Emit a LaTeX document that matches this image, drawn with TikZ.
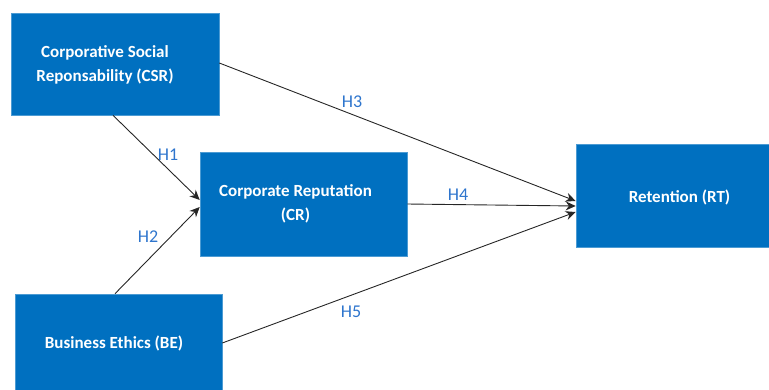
\documentclass[tikz,border=0pt]{standalone}
\usepackage{fontspec}
\setmainfont{Carlito}
\usetikzlibrary{arrows.meta}
\definecolor{boxblue}{RGB}{0,112,192}
\definecolor{hblue}{RGB}{46,117,205}
\begin{document}
\begin{tikzpicture}[x=1pt,y=-1pt,
	box/.style={fill=boxblue,draw=boxblue!70!white,line width=0.6pt,inner sep=0pt},
	txt/.style={text=white,align=center,font=\fontsize{17}{24}\selectfont\bfseries},
	hyp/.style={text=hblue,font=\fontsize{18}{20}\selectfont},
	link/.style={-{Stealth[length=10pt,width=9pt]},line width=0.9pt,black!85}]
		\useasboundingbox (0,0) rectangle (769,389);

		\node[box,minimum width=208pt,minimum height=102pt,label={[txt,name=CSRtext,xshift=-10pt,yshift=-1pt]center:Corporative Social\\Reponsability (CSR)}] (CSR) at (115,64) {};
		\node[box,minimum width=207pt,minimum height=104pt,label={[txt,name=CRtext,xshift=-8pt]center:Corporate Reputation\\(CR)}] (CR) at (303.5,204) {};
		\node[box,minimum width=207pt,minimum height=100pt,label={[txt,name=BEtext,xshift=-4.5pt,yshift=1pt]center:Business Ethics (BE)}] (BE) at (118.5,344) {};
		\node[box,minimum width=207pt,minimum height=103pt,label={[txt,name=RTtext,yshift=-1.5pt]center:Retention (RT)}] (RT) at (679.5,195.5) {};

		\node[hyp] (h1) at (168,155) {H1};
		\node[hyp] (h2) at (148,237) {H2};
		\node[hyp] (h3) at (352,102) {H3};
		\node[hyp] (h4) at (458,195) {H4};
		\node[hyp] (h5) at (351,312) {H5};

		\draw[link] ([xshift=-2pt]CSR.south) to ([yshift=4pt]CR.west);
		\draw[link] ([xshift=-3.5pt]BE.north) to ([yshift=-3pt]CR.west);
		\draw[link] ([yshift=1pt]CSR.east) to ([yshift=-5.5pt]RT.west);
		\draw[link] (CR.east) to ([yshift=-10.5pt]RT.west);
		\draw[link] ([yshift=1pt]BE.east) to ([yshift=-16.5pt]RT.west);
\end{tikzpicture}
\end{document}
